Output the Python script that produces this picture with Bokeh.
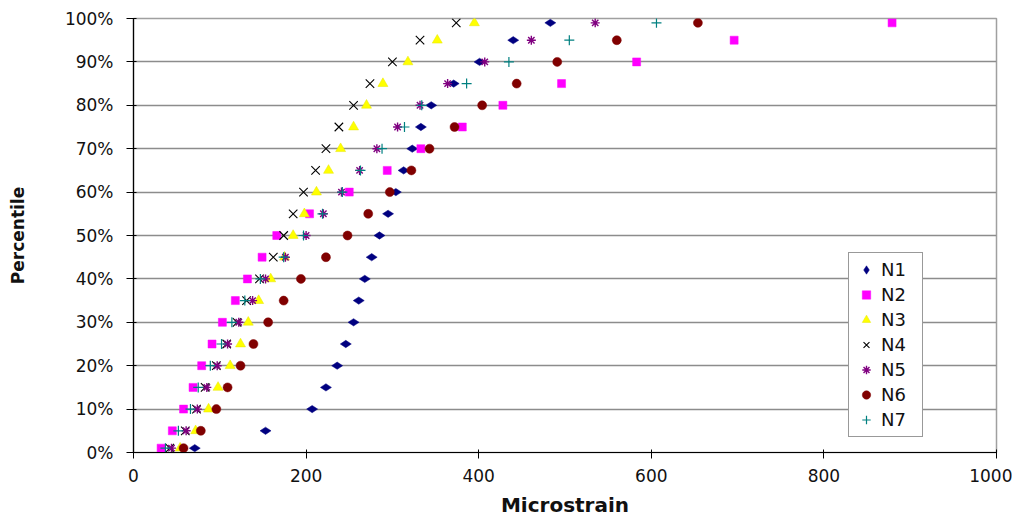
import math
from bokeh.plotting import figure
from bokeh.models import Range1d, FixedTicker, PrintfTickFormatter
from bokeh.embed import file_html
from bokeh.resources import INLINE

# Percentile rows (y values, %)
percentiles = [1, 5, 10, 15, 20, 25, 30, 35, 40, 45, 50, 55, 60, 65, 70, 75, 80, 85, 90, 95, 99]

# Microstrain for each series at each percentile
n1 = [71, 153, 207, 223, 236, 246, 255, 261, 268, 276, 285, 295, 304, 313, 323, 333, 345, 371, 401, 440, 483]
n2 = [32, 45, 58, 69, 79, 91, 103, 118, 132, 149, 166, 204, 250, 294, 333, 381, 428, 496, 583, 696, 879]
n3 = [54, 72, 87, 98, 112, 124, 133, 145, 159, 175, 185, 198, 212, 226, 240, 255, 270, 289, 318, 352, 395]
n4 = [42, 60, 73, 83, 96, 108, 120, 131, 146, 162, 174, 185, 197, 211, 223, 238, 255, 274, 300, 332, 374]
n5 = [44, 61, 74, 85, 97, 109, 122, 138, 153, 176, 200, 220, 241, 262, 282, 306, 332, 364, 407, 461, 535]
n6 = [58, 78, 96, 109, 124, 139, 156, 174, 194, 223, 248, 272, 297, 322, 343, 372, 404, 444, 491, 560, 654]
n7 = [37, 52, 66, 75, 89, 102, 114, 129, 147, 174, 197, 219, 242, 263, 288, 314, 334, 386, 435, 505, 606]

series_names = ["N1", "N2", "N3", "N4", "N5", "N6", "N7"]
series_values = [n1, n2, n3, n4, n5, n6, n7]

x_ticks = [0, 200, 400, 600, 800, 1000]
y_ticks = [0, 10, 20, 30, 40, 50, 60, 70, 80, 90, 100]

FONT = "DejaVu Sans"
TXT = "#111111"

p = figure(width=1012, height=520,
           x_range=Range1d(0, 1000), y_range=Range1d(0, 100),
           output_backend="svg", toolbar_location=None,
           min_border_left=133, min_border_right=16,
           min_border_top=18, min_border_bottom=68,
           background_fill_color="white", border_fill_color="white")

styles = [
    dict(marker="diamond", size=11, angle=math.pi / 2, fill_color="#000080", line_color="#000080", line_width=0.5),
    dict(marker="square", size=8, fill_color="#FF00FF", line_color="#FF00FF", line_width=0.5),
    dict(marker="triangle", size=10, fill_color="#FFFF00", line_color="#E6E600", line_width=0.5),
    dict(marker="x", size=12, line_color="#000000", line_width=1.1),
    dict(marker="asterisk", size=9, line_color="#800080", line_width=1.4),
    dict(marker="circle", size=9, fill_color="#800000", line_color="#800000", line_width=0.5),
    dict(marker="cross", size=10, line_color="#008080", line_width=1.2),
]

for name, vals, st in zip(series_names, series_values, styles):
    p.scatter(x=vals, y=percentiles, legend_label=name, **st)

# Axes
p.xaxis.ticker = FixedTicker(ticks=x_ticks)
p.yaxis.ticker = FixedTicker(ticks=y_ticks)
p.yaxis.formatter = PrintfTickFormatter(format="%d%%")

for ax in (p.xaxis[0], p.yaxis[0]):
    ax.minor_tick_line_color = None
    ax.axis_line_color = "#000000"
    ax.axis_line_width = 1.2
    ax.major_tick_line_color = "#000000"
    ax.major_tick_line_width = 1
    ax.major_tick_in = 3
    ax.major_label_text_font = FONT
    ax.major_label_text_font_size = "17px"
    ax.major_label_text_color = TXT
    ax.axis_label_text_font = FONT
    ax.axis_label_text_font_style = "bold"
    ax.axis_label_text_color = TXT

p.xaxis.axis_label = "Microstrain"
p.xaxis.axis_label_text_font_size = "20px"
p.xaxis.major_tick_out = 6
p.xaxis.major_label_standoff = 10
p.xaxis.axis_label_standoff = 8

p.yaxis.axis_label = "Percentile"
p.yaxis.axis_label_text_font_size = "17px"
p.yaxis.major_tick_out = 7
p.yaxis.major_label_standoff = 13
p.yaxis.axis_label_standoff = 34

# Grid
p.xgrid.visible = False
p.ygrid.ticker = FixedTicker(ticks=y_ticks)
p.ygrid.grid_line_color = "#8c8c8c"
p.ygrid.grid_line_width = 1.5

p.outline_line_color = "#a0a0a0"
p.outline_line_width = 1.5

# Legend
lg = p.legend[0]
lg.location = (715, 15)
lg.border_line_color = "#333333"
lg.border_line_width = 1.2
lg.background_fill_color = "white"
lg.background_fill_alpha = 1.0
lg.label_text_font = FONT
lg.label_text_font_size = "18px"
lg.label_text_color = TXT
lg.glyph_width = 22
lg.glyph_height = 21
lg.label_height = 21
lg.label_width = 35
lg.label_standoff = 4
lg.spacing = 4
lg.padding = 6
lg.margin = 0

open("out.html", "w").write(file_html(p, INLINE))
